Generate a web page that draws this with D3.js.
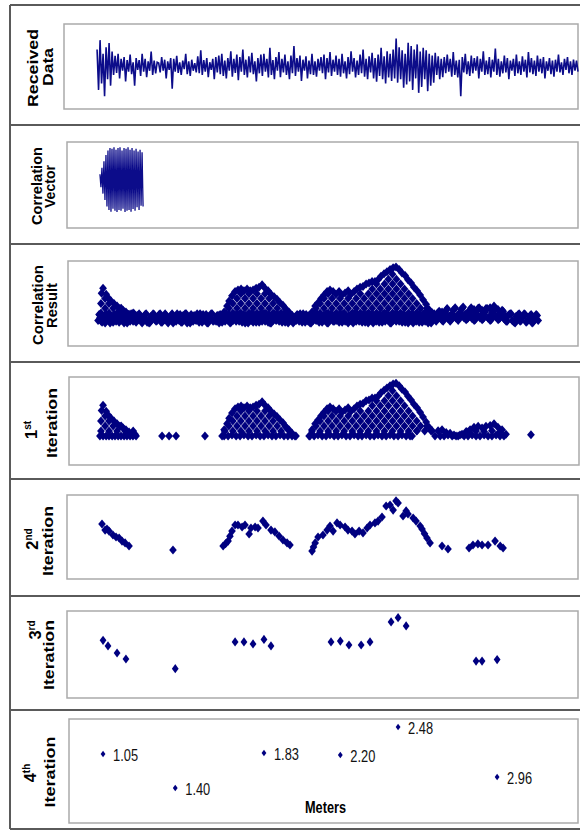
<!DOCTYPE html>
<html><head><meta charset="utf-8">
<script src="https://cdn.jsdelivr.net/npm/d3@7"></script>
<style>body{margin:0;background:#fff}svg{display:block}</style>
</head><body><svg id="c" width="580" height="830"></svg>
<script>
// ---------------- DATA ----------------
// Received waveform (arbitrary amplitude units, evenly spaced samples between start/end metres)
const receivedStart = 1.021, receivedEnd = 3.352;
const receivedData = [40,-55,62,-40,30,-70,45,-30,55,-45,35,
-20,25,-15,30,-28,18,-10,22,-35,15,-12,28,-18,10,-45,20,-8,15,-22,30,-12,18,-25,12,-10,35,-20,14,-16,10,
8,-14,22,-10,16,-28,12,-8,20,-52,18,-12,25,-15,10,-20,14,-6,30,-18,12,-22,16,-10,8,-14,24,-16,38,-20,15,-12,20,-25,10,-8,18,-30,22,-14,
26,-18,30,-22,14,-28,20,-10,36,-24,18,-15,28,-32,22,-12,40,-20,16,-26,24,-14,32,-18,12,-35,20,-16,28,-22,30,-12,18,-26,44,-20,15,-30,22,-10,
34,-25,18,-14,28,-20,12,-30,26,-16,48,-22,20,-12,26,-34,16,-10,24,-28,14,-18,30,-20,12,-24,18,-10,22,-16,28,-30,20,-14,34,-22,16,-12,26,-20,
18,-24,30,-16,12,-28,22,-18,36,-12,20,-26,14,-20,28,-16,40,-24,18,-30,24,-14,32,-28,20,-36,28,-22,44,-30,24,-40,36,-26,30,-34,40,-28,66,-38,
45,-30,38,-50,30,-42,56,-35,48,-55,40,-28,52,-62,35,-48,44,-30,38,-58,30,-45,26,-38,32,-20,24,-30,18,-25,
22,-16,28,-12,18,-24,34,-20,14,-26,16,-70,22,-14,30,-18,12,-22,26,-16,20,-10,24,-28,18,-12,36,-20,14,-18,
22,-26,16,-12,42,-20,18,-24,12,-16,26,-14,20,-30,14,-10,18,-22,28,-16,12,-20,24,-12,16,-26,34,-14,20,-18,
14,-22,26,-12,18,-16,22,-28,12,-10,20,-18,14,-24,16,-12,28,-14,10,-20,18,-8,22,-16,12,-20,16,-10,14,-12];

// Correlation vector (short reference chirp)
const corrVectorStart = 1.035, corrVectorEnd = 1.244;
const corrVector = [25,-5,40,-20,55,-35,70,-50,80,-58,86,-62,84,-55,88,-60,82,-63,86,-58,88,-60,80,-55,86,-63,84,-60,88,-58,82,-62,86,-56,80,-60,84,-52,78,-58,82,-48,76,-50];

// Correlation result: low-level band, two interleaved sample phases (peaks = 1st-iteration points)
const corrBaseStart = 1.026, corrBaseEnd = 3.159;
const corrBase = [.30,.36,.28,.33,.38,.31,.27,.34,.37,.29,
.32,.38,.30,.27,.35,.37,.29,.33,.38,.28,
.31,.36,.27,.34,.38,.30,.28,.35,.37,.29,
.33,.38,.28,.31,.36,.27,.34,.38,.30,.29,
.35,.37,.28,.32,.38,.29,.27,.35,.36,.30,
.33,.38,.28,.31,.37,.27,.34,.38,.30,.29,
.36,.37,.28,.33,.38,.30,.27,.35,.37,.29,
.32,.38,.28,.31,.36,.27,.34,.39,.30,.28,
.35,.37,.29,.32,.38,.28,.27,.36,.38,.30,
.33,.37,.28,.31,.38,.27,.34,.36,.29,.30,
.36,.38,.28,.33,.37,.29,.27,.35,.38,.30,
.32,.37,.28,.31,.38,.27,.34,.37,.29,.30,
.35,.38,.28,.33,.36,.27,.30,.37,.38,.29,
.33,.38,.28,.31,.37,.27,.35,.38,.30,.29,
.36,.37,.28,.32,.38,.30,.27,.34,.37,.29,
.33,.38,.28,.31,.36,.27,.35,.38,.30,.29,
.34,.37,.28,.32,.38,.27,.30,.36,.38,.29,
.33,.39,.30,.36,.42,.32,.29,.38,.43,.33,
.30,.40,.44,.34,.31,.39,.43,.32,.30,.41,
.44,.35,.31,.40,.43,.33,.30,.39,.44,.34,
.31,.38,.42,.32,.29,.36,.38,.30,.28,.35,
.37,.29,.33,.38,.28,.31,.36,.27,.34,.37,.30];
const corrBase2Start = 1.031, corrBase2End = 3.154;
const corrBase2 = [.37,.29,.35,.27,.33,.38,.30,.28,.36,.38,
.28,.34,.37,.31,.27,.33,.38,.29,.30,.36,
.38,.29,.32,.37,.28,.27,.35,.38,.31,.30,
.37,.28,.33,.38,.29,.30,.36,.27,.34,.38,
.30,.28,.36,.38,.27,.33,.37,.29,.31,.38,
.28,.34,.37,.30,.27,.35,.38,.29,.32,.36,
.27,.31,.38,.29,.33,.37,.28,.30,.36,.38,
.29,.33,.37,.27,.35,.38,.30,.28,.36,.37,
.28,.31,.38,.29,.34,.37,.27,.30,.36,.38,
.29,.32,.37,.28,.35,.38,.30,.27,.34,.37,
.29,.31,.38,.28,.33,.36,.27,.30,.37,.38,
.28,.34,.36,.30,.27,.35,.38,.29,.31,.37,
.28,.33,.38,.29,.30,.36,.37,.27,.32,.38,
.29,.34,.37,.28,.31,.38,.30,.27,.35,.37,
.28,.32,.38,.29,.33,.36,.27,.30,.37,.38,
.29,.34,.37,.28,.31,.38,.30,.27,.35,.36,
.28,.32,.38,.29,.33,.37,.27,.31,.36,.38,
.41,.33,.29,.40,.44,.35,.31,.42,.45,.36,
.33,.43,.46,.37,.32,.41,.45,.34,.31,.42,
.45,.36,.32,.41,.44,.34,.31,.40,.43,.35,
.32,.39,.41,.31,.29,.37,.38,.29,.27,.34,
.38,.30,.35,.37,.29,.32,.37,.28,.33,.36];

// 1st iteration points [metres, normalised correlation]
const iteration1 = [
// cluster near 1.05 m
[1.050,.68],[1.065,.61],[1.074,.57],[1.089,.53],[1.103,.50],[1.118,.47],[1.132,.44],[1.147,.42],[1.161,.40],[1.176,.375],[1.191,.36],[1.205,.35],
[1.043,.62],[1.040,.387],[1.079,.387],[1.118,.387],[1.157,.387],[1.196,.387],[1.060,.444],[1.099,.444],[1.138,.444],[1.040,.501],[1.079,.501],[1.060,.558],
[1.035,.33],[1.050,.33],[1.065,.33],[1.079,.33],[1.094,.33],[1.108,.33],[1.123,.33],[1.137,.33],[1.152,.33],[1.166,.33],[1.181,.33],[1.195,.33],[1.210,.33],
[1.336,.33],[1.370,.33],[1.404,.33],[1.544,.33],
// cluster near 1.83 m
[1.627,.33],[1.637,.40],[1.651,.47],[1.661,.53],[1.675,.59],[1.690,.64],[1.704,.66],[1.719,.67],[1.733,.65],[1.748,.67],[1.763,.65],[1.777,.66],[1.792,.68],[1.806,.69],[1.821,.72],[1.835,.68],[1.850,.65],[1.864,.61],[1.879,.58],[1.893,.55],[1.908,.51],[1.922,.48],[1.937,.43],[1.951,.40],[1.966,.36],[1.980,.33],
[1.640,.387],[1.679,.387],[1.718,.387],[1.757,.387],[1.796,.387],[1.835,.387],[1.874,.387],[1.913,.387],[1.952,.387],
[1.660,.444],[1.699,.444],[1.738,.444],[1.777,.444],[1.816,.444],[1.855,.444],[1.894,.444],[1.933,.444],
[1.679,.501],[1.718,.501],[1.757,.501],[1.796,.501],[1.835,.501],[1.874,.501],
[1.699,.558],[1.738,.558],[1.777,.558],[1.816,.558],[1.855,.558],
[1.718,.615],[1.757,.615],[1.796,.615],[1.835,.615],
[1.637,.33],[1.656,.33],[1.675,.34],[1.695,.33],[1.714,.33],[1.733,.34],[1.753,.33],[1.772,.33],[1.792,.34],[1.811,.33],[1.830,.33],[1.850,.34],[1.869,.33],[1.888,.33],[1.908,.34],[1.927,.33],[1.946,.33],[1.966,.33],[1.985,.33],
// cluster near 2.48 m
[2.049,.33],[2.063,.40],[2.078,.47],[2.092,.51],[2.107,.56],[2.121,.60],[2.136,.64],[2.150,.66],[2.165,.64],[2.179,.61],[2.194,.64],[2.208,.60],[2.223,.625],[2.238,.65],[2.252,.61],[2.267,.64],[2.281,.67],[2.296,.69],[2.310,.70],[2.325,.73],[2.339,.74],[2.354,.76],[2.368,.76],[2.383,.78],[2.397,.82],[2.412,.85],[2.426,.875],[2.441,.90],[2.456,.92],[2.470,.93],[2.485,.90],[2.499,.86],[2.514,.83],[2.528,.78],[2.543,.74],[2.557,.69],[2.572,.65],[2.587,.60],[2.601,.545],[2.616,.49],[2.630,.43],[2.645,.39],[2.659,.33],
[2.063,.387],[2.102,.387],[2.141,.387],[2.180,.387],[2.219,.387],[2.258,.387],[2.297,.387],[2.336,.387],[2.375,.387],[2.414,.387],[2.453,.387],[2.492,.387],[2.531,.387],[2.570,.387],[2.609,.387],[2.640,.387],
[2.082,.444],[2.121,.444],[2.160,.444],[2.199,.444],[2.238,.444],[2.277,.444],[2.316,.444],[2.355,.444],[2.394,.444],[2.433,.444],[2.472,.444],[2.511,.444],[2.550,.444],[2.589,.444],[2.620,.444],
[2.102,.501],[2.141,.501],[2.180,.501],[2.219,.501],[2.258,.501],[2.297,.501],[2.336,.501],[2.375,.501],[2.414,.501],[2.453,.501],[2.492,.501],[2.531,.501],[2.570,.501],
[2.121,.558],[2.160,.558],[2.199,.558],[2.238,.558],[2.277,.558],[2.316,.558],[2.355,.558],[2.394,.558],[2.433,.558],[2.472,.558],[2.511,.558],[2.550,.558],
[2.141,.615],[2.297,.615],[2.336,.615],[2.375,.615],[2.414,.615],[2.453,.615],[2.492,.615],[2.531,.615],
[2.355,.672],[2.394,.672],[2.433,.672],[2.472,.672],[2.511,.672],
[2.375,.729],[2.414,.729],[2.453,.729],[2.492,.729],
[2.433,.786],[2.472,.786],[2.453,.843],
[2.548,.33],[2.572,.39],
[2.053,.33],[2.073,.33],[2.092,.34],[2.112,.33],[2.131,.33],[2.150,.34],[2.170,.33],[2.189,.33],[2.208,.34],[2.228,.33],[2.247,.33],[2.267,.34],[2.286,.33],[2.305,.33],[2.325,.34],[2.344,.33],[2.364,.33],[2.383,.34],[2.402,.33],[2.422,.33],[2.441,.34],[2.460,.33],[2.480,.33],[2.499,.34],[2.519,.33],[2.538,.33],
// low group near 2.9 m
[2.674,.39],[2.693,.40],[2.713,.37],[2.732,.36],[2.751,.34],[2.771,.33],[2.790,.35],[2.810,.38],[2.829,.40],[2.848,.43],[2.868,.44],[2.887,.42],[2.906,.44],[2.926,.45],[2.945,.47],[2.964,.43],[2.984,.40],[3.003,.35],
[2.819,.375],[2.858,.385],[2.897,.38],[2.935,.39],[2.974,.375],
[2.684,.33],[2.703,.33],[2.722,.34],[2.742,.33],[2.761,.33],[2.780,.34],[2.800,.33],[2.819,.33],[2.839,.34],[2.858,.33],[2.877,.33],[2.897,.34],[2.916,.33],[2.935,.33],[2.955,.34],[2.974,.33],[2.993,.33],
[3.124,.345]];

// 2nd iteration points
const iteration2 = [
[1.045,.655],[1.060,.583],[1.069,.595],[1.079,.571],[1.098,.524],[1.113,.500],[1.128,.488],[1.142,.452],[1.157,.429],[1.176,.393],
[1.389,.345],
[1.632,.393],[1.644,.420],[1.656,.452],[1.665,.510],[1.675,.571],[1.690,.643],[1.704,.643],[1.724,.619],[1.738,.643],[1.758,.536],[1.767,.607],[1.787,.619],[1.801,.607],[1.825,.690],[1.840,.643],[1.864,.583],[1.883,.560],[1.903,.512],[1.922,.464],[1.942,.429],[1.956,.405],
[2.063,.333],[2.070,.380],[2.078,.429],[2.092,.500],[2.116,.524],[2.136,.583],[2.150,.631],[2.165,.571],[2.184,.667],[2.199,.643],[2.223,.619],[2.237,.583],[2.257,.571],[2.271,.536],[2.291,.571],[2.310,.548],[2.330,.607],[2.344,.643],[2.368,.667],[2.383,.690],[2.402,.738],[2.422,.869],[2.441,.881],[2.456,.821],[2.470,.929],[2.480,.905],[2.504,.750],[2.519,.810],[2.528,.774],[2.553,.726],[2.567,.690],[2.587,.631],[2.596,.595],[2.608,.540],[2.620,.488],[2.635,.429],
[2.693,.393],[2.722,.357],
[2.824,.369],[2.843,.405],[2.867,.417],[2.887,.405],[2.916,.405],[2.950,.452],[2.975,.393],[2.989,.369]];

// 3rd iteration points
const iteration3 = [
[1.050,.663],[1.074,.598],[1.118,.517],[1.161,.448],
[1.400,.337],
[1.690,.644],[1.733,.644],[1.777,.621],[1.830,.673],[1.864,.598],
[2.155,.644],[2.200,.654],[2.242,.609],[2.301,.609],[2.344,.644],
[2.446,.874],[2.480,.923],[2.519,.828],
[2.858,.425],[2.887,.425],[2.960,.442]];

// 4th iteration: final peaks
const peakMeters = [1.05, 1.40, 1.83, 2.20, 2.48, 2.96];
const peakValues = [0.663, 0.337, 0.673, 0.654, 0.923, 0.442];
const peakLabels = ["1.05", "1.40", "1.83", "2.20", "2.48", "2.96"];

const panelTitles = [
  [["Received"], ["Data"]],
  [["Correlation"], ["Vector"]],
  [["Correlation"], ["Result"]],
  [["1","st"], ["Iteration"]],
  [["2","nd"], ["Iteration"]],
  [["3","rd"], ["Iteration"]],
  [["4","th"], ["Iteration"]]];
const xAxisTitle = "Meters";

// ---------------- LAYOUT ----------------
const svg = d3.select("#c");
const navy = "#000080";
const font = "'Liberation Sans', Arial, Helvetica, sans-serif";
const rowLines = [5,125,244,362,479,596,710,829];
const boxes = [
 {x0:64,y0:24,x1:578,y1:109},
 {x0:67,y0:142,x1:578,y1:228},
 {x0:68,y0:261,x1:578,y1:346},
 {x0:69,y0:377,x1:579,y1:465},
 {x0:67,y0:495,x1:578,y1:579},
 {x0:67,y0:611,x1:578,y1:698},
 {x0:69,y0:719,x1:578,y1:823}];
const titlePos = [
 [{x:38,cy:68,len:78},{x:53,cy:67,len:38}],
 [{x:42,cy:186,len:78},{x:55,cy:186.5,len:43}],
 [{x:43,cy:305,len:80},{x:57,cy:305.5,len:45}],
 [{x:37,cy:430},{x:57,cy:423,len:70}],
 [{x:38,cy:539},{x:53,cy:541,len:70}],
 [{x:41,cy:630},{x:54,cy:655,len:70}],
 [{x:36,cy:773},{x:55,cy:772,len:71}]];

// outer frame
svg.append("line").attr("x1",10).attr("x2",10).attr("y1",rowLines[0]).attr("y2",rowLines[7])
  .attr("stroke","#5a5a5a").attr("stroke-width",2);
svg.selectAll("line.row").data(rowLines).enter().append("line").attr("class","row")
  .attr("x1",10).attr("x2",585).attr("y1",d=>d).attr("y2",d=>d)
  .attr("stroke","#5a5a5a").attr("stroke-width",2);

// inner plot boxes
svg.selectAll("rect.box").data(boxes).enter().append("rect").attr("class","box")
  .attr("x",d=>d.x0).attr("y",d=>d.y0).attr("width",d=>d.x1-d.x0).attr("height",d=>d.y1-d.y0)
  .attr("fill","#fff").attr("stroke","#aaaaaa").attr("stroke-width",1.5);

// titles
panelTitles.forEach((lines,i)=>{
  lines.forEach((ln,j)=>{
    const p = titlePos[i][j];
    const t = svg.append("text").attr("transform",`translate(${p.x},${p.cy}) rotate(-90)`)
      .attr("text-anchor","middle").attr("font-family",font).attr("font-weight","bold")
      .attr("font-size",15.5).attr("fill","#000");
    if (ln.length===1){
      t.text(ln[0]);
      if (p.len) t.attr("textLength",p.len).attr("lengthAdjust","spacingAndGlyphs");
    } else {
      t.append("tspan").text(ln[0]).attr("font-size",16.5);
      t.append("tspan").text(ln[1]).attr("font-size",10).attr("dy",-6);
    }
  });
});

// shared horizontal scale (metres)
const x = d3.scaleLinear().domain([0.885, 3.352]).range([69, 578]);

// diamond symbol with aspect ratio
function diamond(ar){
  return {draw(ctx,size){const w=Math.sqrt(size/(2*ar)),h=w*ar;
    ctx.moveTo(0,-h);ctx.lineTo(w,0);ctx.lineTo(0,h);ctx.lineTo(-w,0);ctx.closePath();}};
}

// Panel 1: received data
{
  const b = boxes[0];
  const y = d3.scaleLinear().domain([-100,100]).range([b.y1,b.y0]);
  const step = (receivedEnd-receivedStart)/(receivedData.length-1);
  svg.append("path").datum(receivedData)
    .attr("d", d3.line().x((d,i)=>x(receivedStart+i*step)).y(d=>y(d)))
    .attr("fill","none").attr("stroke","#0c0c8a").attr("stroke-width",1.6);
}
// Panel 2: correlation vector
{
  const b = boxes[1];
  const y = d3.scaleLinear().domain([-100,100]).range([b.y1,b.y0]);
  const step = (corrVectorEnd-corrVectorStart)/(corrVector.length-1);
  svg.append("path").datum(corrVector)
    .attr("d", d3.line().x((d,i)=>x(corrVectorStart+i*step)).y(d=>y(d)))
    .attr("fill","none").attr("stroke","#0c0c8a").attr("stroke-width",1.3);
}

function scatter(panel, pts, w, h){
  const b = boxes[panel];
  const y = d3.scaleLinear().domain([0,1]).range([b.y1,b.y0]);
  const sym = d3.symbol().type(diamond(h/w)).size(2*w*h);
  svg.append("g").selectAll("path").data(pts).enter().append("path")
    .attr("transform",d=>`translate(${x(d[0])},${y(d[1])})`)
    .attr("d",sym).attr("fill",navy);
  return y;
}

// Panel 3: correlation result = band (two phases) + peaks
{
  const s1 = (corrBaseEnd-corrBaseStart)/(corrBase.length-1);
  const s2 = (corrBase2End-corrBase2Start)/(corrBase2.length-1);
  const basePts = corrBase.map((v,i)=>[corrBaseStart+i*s1, v])
    .concat(corrBase2.map((v,i)=>[corrBase2Start+i*s2, v]));
  scatter(2, basePts.concat(iteration1), 3.9, 4.5);
}
scatter(3, iteration1, 3.9, 4.5);
scatter(4, iteration2, 3.8, 4.6);
scatter(5, iteration3, 3.4, 4.6);
{
  const pts = peakMeters.map((m,i)=>[m, peakValues[i], peakLabels[i]]);
  const y = scatter(6, pts, 2.4, 3.3);
  svg.append("g").selectAll("text").data(pts).enter().append("text")
    .attr("x",d=>x(d[0])+10).attr("y",d=>y(d[1])+7)
    .attr("font-family",font).attr("font-size",17).attr("fill","#111")
    .attr("textLength",25).attr("lengthAdjust","spacingAndGlyphs")
    .text(d=>d[2]);
  svg.append("text").attr("x",325.5).attr("y",813).attr("text-anchor","middle")
    .attr("font-family",font).attr("font-weight","bold").attr("font-size",17)
    .attr("textLength",41).attr("lengthAdjust","spacingAndGlyphs").attr("fill","#000")
    .text(xAxisTitle);
}
</script></body></html>
